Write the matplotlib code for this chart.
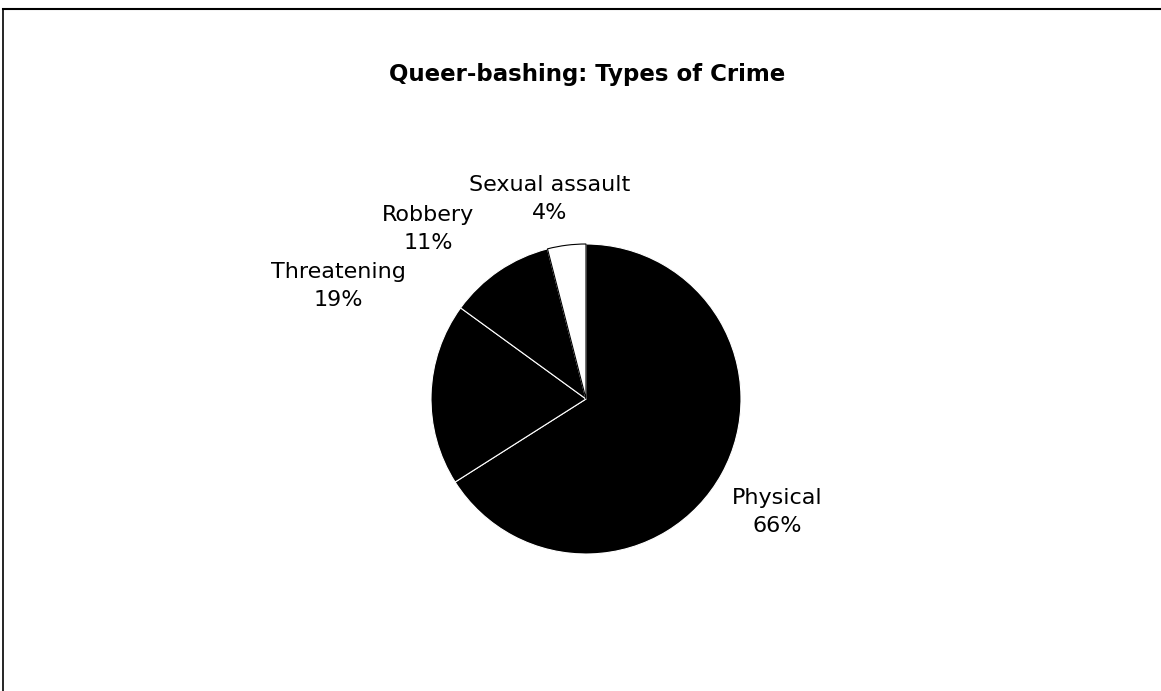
import matplotlib
matplotlib.use('Agg')
import matplotlib.pyplot as plt
from matplotlib.lines import Line2D

# data
categories = ['Physical', 'Threatening', 'Robbery', 'Sexual assault']
percents = [66, 19, 11, 4]
colors = ['black', 'black', 'black', 'white']

# label positions in figure pixels (x, y from top)
label_pos = [(777, 512), (338, 286), (428, 229), (550, 199)]

W, H = 1161, 691
fig = plt.figure(figsize=(W / 100, H / 100), dpi=100)
plt.rcParams['font.family'] = ['DejaVu Sans']

cx, cy, r = 586, 399, 155
ax = fig.add_axes([(cx - r) / W, (H - cy - r) / H, 2 * r / W, 2 * r / H])
wedges, _ = ax.pie(percents, colors=colors, startangle=90, counterclock=False,
                   wedgeprops={'edgecolor': 'white', 'linewidth': 0.8})
for w in wedges:
    if w.get_facecolor()[0] > 0.5:
        w.set_edgecolor('black')
        w.set_linewidth(0.8)
ax.set_xlim(-1, 1)
ax.set_ylim(-1, 1)
ax.set_aspect('equal')

for name, pct, (x, y) in zip(categories, percents, label_pos):
    fig.text(x / W, 1 - y / H, '%s\n%d%%' % (name, pct), ha='center', va='center',
             fontsize=16, linespacing=1.5, multialignment='center')

fig.text(587 / W, 1 - 75 / H, 'Queer-bashing: Types of Crime', ha='center', va='center',
         fontsize=16.5, fontweight='bold')

# border lines (top and left only, as in the scan)
fig.add_artist(Line2D([3 / W, 1.0], [1 - 9 / H, 1 - 9 / H], color='black', lw=1.5,
                      transform=fig.transFigure))
fig.add_artist(Line2D([3 / W, 3 / W], [0, 1 - 9 / H], color='black', lw=1.2,
                      transform=fig.transFigure))

fig.savefig('out.png', dpi=100)
